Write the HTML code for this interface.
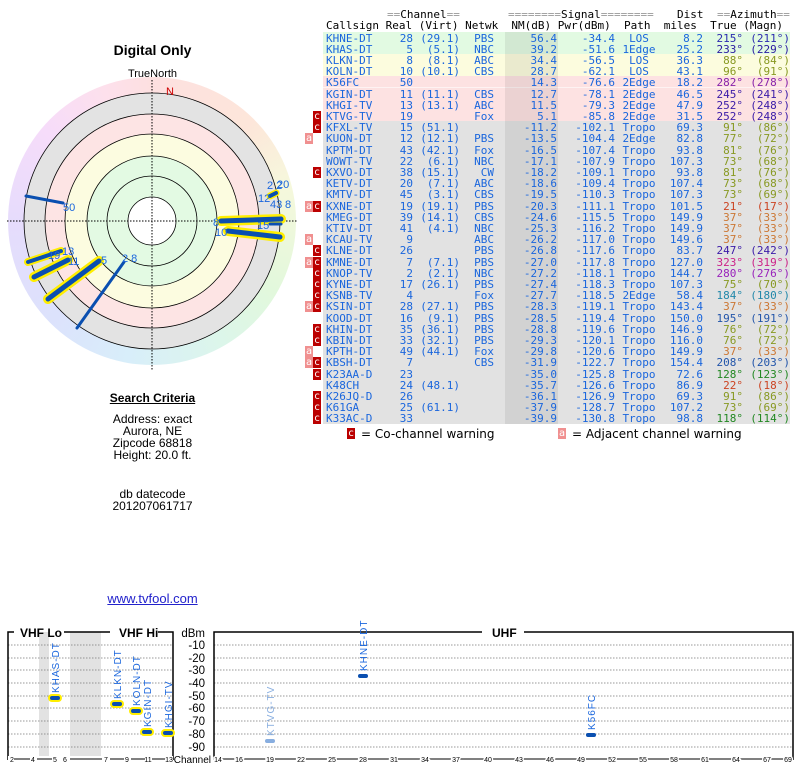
<!DOCTYPE html>
<html><head><meta charset="utf-8"><style>
body{margin:0;width:800px;height:768px;position:relative;background:#fff;overflow:hidden;font-family:"Liberation Sans",sans-serif}
.a{position:absolute}
.t{position:absolute;font-family:"DejaVu Sans Mono","Liberation Mono",monospace;font-size:11px;letter-spacing:0;line-height:11px;white-space:pre;color:#1a66dd}
.bg{position:absolute;left:323px;width:467px;height:11px;border-bottom:1px solid rgba(255,255,255,.6)}
.g{background:#e2fae2}.y{background:#fcfcde}.p{background:#fde2e2}.k{background:#e2e2e2}
.r{position:absolute;left:0;width:800px;height:11px}
.r span{position:absolute;top:0}
.cs{left:326px}.re{right:387px}.vi{right:340px}.nw{right:306px}.nm{right:243px}.pw{right:185px}.pa{left:621px;width:36px;text-align:center}.di{right:97px}.tr{right:57px}.mg{right:10px}
.C,.A{position:absolute;top:0;width:8px;height:11px;color:#fff;font-family:"DejaVu Sans Mono",monospace;font-size:10px;line-height:11px;text-align:center;font-weight:normal}
.C{left:313px;background:#bb0000}.A{left:305px;background:#f09090}
.cen{position:absolute;left:0;width:305px;text-align:center;font-size:12px;color:#000}
</style></head><body>

<div class="a" style="left:8px;top:77px;width:288px;height:288px;border-radius:50%;background:conic-gradient(#fde0e0 0deg,#fde6da 45deg,#f6f8dc 75deg,#e2f8dc 120deg,#dcf6ea 150deg,#d8eefa 190deg,#dce2fc 225deg,#e6dcfc 270deg,#f6dcfa 310deg,#fde0ec 340deg,#fde0e0 360deg)"></div>
<svg class="a" style="left:0;top:0" width="310" height="380">
<circle cx="152" cy="221" r="128" fill="#e3e3e3" stroke="#000" stroke-width="0.8"/>
<circle cx="152" cy="221" r="107" fill="#fde4e4" stroke="#000" stroke-width="0.8"/>
<circle cx="152" cy="221" r="87" fill="#fcfce0" stroke="#000" stroke-width="0.8"/>
<circle cx="152" cy="221" r="65" fill="#e3fae3" stroke="#000" stroke-width="0.8"/>
<circle cx="152" cy="221" r="45" fill="none" stroke="#000" stroke-width="0.8"/>
<circle cx="152" cy="221" r="24" fill="#fff" stroke="#000" stroke-width="0.8"/>
<line x1="7" y1="221" x2="297" y2="221" stroke="#000" stroke-width="1" stroke-dasharray="1.5,1.5"/>
<line x1="152" y1="80" x2="152" y2="370" stroke="#000" stroke-width="1" stroke-dasharray="1.5,1.5"/>
<g stroke-linecap="round">
<line x1="26" y1="196" x2="63" y2="203" stroke="#0a4fb0" stroke-width="3"/>
<line x1="124" y1="262" x2="77" y2="328" stroke="#0a4fb0" stroke-width="3"/>
<line x1="99" y1="261" x2="48" y2="299" stroke="#ffee00" stroke-width="10"/>
<line x1="99" y1="261" x2="48" y2="299" stroke="#0a4fb0" stroke-width="5"/>
<line x1="68" y1="260" x2="34" y2="277" stroke="#ffee00" stroke-width="10"/>
<line x1="68" y1="260" x2="34" y2="277" stroke="#0a4fb0" stroke-width="5"/>
<line x1="61" y1="251" x2="28" y2="262" stroke="#ffee00" stroke-width="8"/>
<line x1="61" y1="251" x2="28" y2="262" stroke="#0a4fb0" stroke-width="4"/>
<line x1="221" y1="221" x2="281" y2="219" stroke="#ffee00" stroke-width="10"/>
<line x1="221" y1="221" x2="281" y2="219" stroke="#0a4fb0" stroke-width="5"/>
<line x1="228" y1="231" x2="280" y2="237" stroke="#ffee00" stroke-width="10"/>
<line x1="228" y1="231" x2="280" y2="237" stroke="#0a4fb0" stroke-width="5"/>
<line x1="270" y1="224" x2="281" y2="224" stroke="#0a4fb0" stroke-width="3"/>
<line x1="270" y1="196" x2="276" y2="193" stroke="#ffee00" stroke-width="7"/>
<line x1="270" y1="196" x2="276" y2="193" stroke="#0a4fb0" stroke-width="4"/>
</g>
<g font-family="Liberation Sans,sans-serif" font-size="11" fill="#1a66dd">
<text x="63" y="211">50</text><text x="122" y="262">2 8</text><text x="101" y="264">5</text>
<text x="68" y="265">11</text><text x="62" y="255">13</text><text x="48" y="259">19</text>
<text x="213" y="226">8</text><text x="215" y="236">10</text><text x="257" y="229">15</text>
<text x="267" y="189">2 2</text><text x="277" y="188">20</text><text x="258" y="202">12</text><text x="270" y="208">43</text><text x="285" y="208">8</text>
</g>
<text x="166" y="95" font-family="Liberation Sans,sans-serif" font-size="11" fill="#cc0000">N</text>
</svg>
<div class="cen" style="top:42px;font-size:14px;font-weight:bold">Digital Only</div>
<div class="cen" style="top:68px;font-size:11px">TrueNorth</div>

<div class="cen" style="top:391px;font-weight:bold"><span style="text-decoration:underline">Search Criteria</span></div>
<div class="cen" style="top:413px;line-height:12px">Address: exact<br>Aurora, NE<br>Zipcode 68818<br>Height: 20.0 ft.</div>
<div class="cen" style="top:488px;line-height:12px">db datecode<br>201207061717</div>
<div class="cen" style="top:591px;font-size:13px;color:#2222cc;text-decoration:underline">www.tvfool.com</div>

<div class="t" style="left:387px;top:9px;color:#000"><span style="color:#999">==</span>Channel<span style="color:#999">==</span></div>
<div class="t" style="left:508px;top:9px;color:#000"><span style="color:#999">========</span>Signal<span style="color:#999">========</span></div>
<div class="t" style="left:677px;top:9px;color:#000">Dist</div>
<div class="t" style="left:717px;top:9px;color:#000"><span style="color:#999">==</span>Azimuth<span style="color:#999">==</span></div>
<div class="t" style="left:326px;top:20px;color:#000">Callsign Real (Virt) Netwk  NM(dB) Pwr(dBm)  Path  miles  True (Magn)</div>

<div class="bg g" style="top:32px"></div><div class="bg g" style="top:43px"></div>
<div class="bg y" style="top:54px"></div><div class="bg y" style="top:65px"></div>
<div class="bg p" style="top:76px"></div><div class="bg p" style="top:88px"></div><div class="bg p" style="top:99px"></div><div class="bg p" style="top:110px"></div>
<div class="a k" style="left:323px;top:121px;width:467px;height:303px"></div>
<div class="a" style="left:505px;top:32px;width:53px;height:392px;background:rgba(0,0,0,.07)"></div>

<div class="t" style="left:0;top:32.5px;width:800px">
<div class="r" style="top:0px"><span class="cs">KHNE-DT</span><span class="re">28</span><span class="vi">(29.1)</span><span class="nw">PBS</span><span class="nm">56.4</span><span class="pw">-34.4</span><span class="pa">LOS</span><span class="di">8.2</span><span class="tr" style="color:#2a2ab0">215°</span><span class="mg" style="color:#2a2ab0">(211°)</span></div>
<div class="r" style="top:11.2px"><span class="cs">KHAS-DT</span><span class="re">5</span><span class="vi">(5.1)</span><span class="nw">NBC</span><span class="nm">39.2</span><span class="pw">-51.6</span><span class="pa">1Edge</span><span class="di">25.2</span><span class="tr" style="color:#2a1aa0">233°</span><span class="mg" style="color:#2a1aa0">(229°)</span></div>
<div class="r" style="top:22.4px"><span class="cs">KLKN-DT</span><span class="re">8</span><span class="vi">(8.1)</span><span class="nw">ABC</span><span class="nm">34.4</span><span class="pw">-56.5</span><span class="pa">LOS</span><span class="di">36.3</span><span class="tr" style="color:#889922">88°</span><span class="mg" style="color:#889922">(84°)</span></div>
<div class="r" style="top:33.6px"><span class="cs">KOLN-DT</span><span class="re">10</span><span class="vi">(10.1)</span><span class="nw">CBS</span><span class="nm">28.7</span><span class="pw">-62.1</span><span class="pa">LOS</span><span class="di">43.1</span><span class="tr" style="color:#889922">96°</span><span class="mg" style="color:#889922">(91°)</span></div>
<div class="r" style="top:44.8px"><span class="cs">K56FC</span><span class="re">50</span><span class="nm">14.3</span><span class="pw">-76.6</span><span class="pa">2Edge</span><span class="di">18.2</span><span class="tr" style="color:#8822aa">282°</span><span class="mg" style="color:#8822aa">(278°)</span></div>
<div class="r" style="top:56px"><span class="cs">KGIN-DT</span><span class="re">11</span><span class="vi">(11.1)</span><span class="nw">CBS</span><span class="nm">12.7</span><span class="pw">-78.1</span><span class="pa">2Edge</span><span class="di">46.5</span><span class="tr" style="color:#3a1aa8">245°</span><span class="mg" style="color:#3a1aa8">(241°)</span></div>
<div class="r" style="top:67.2px"><span class="cs">KHGI-TV</span><span class="re">13</span><span class="vi">(13.1)</span><span class="nw">ABC</span><span class="nm">11.5</span><span class="pw">-79.3</span><span class="pa">2Edge</span><span class="di">47.9</span><span class="tr" style="color:#3a1aa8">252°</span><span class="mg" style="color:#3a1aa8">(248°)</span></div>
<div class="r" style="top:78.4px"><b class="C">c</b><span class="cs">KTVG-TV</span><span class="re">19</span><span class="nw">Fox</span><span class="nm">5.1</span><span class="pw">-85.8</span><span class="pa">2Edge</span><span class="di">31.5</span><span class="tr" style="color:#3a1aa8">252°</span><span class="mg" style="color:#3a1aa8">(248°)</span></div>
<div class="r" style="top:89.6px"><b class="C">c</b><span class="cs">KFXL-TV</span><span class="re">15</span><span class="vi">(51.1)</span><span class="nm">-11.2</span><span class="pw">-102.1</span><span class="pa">Tropo</span><span class="di">69.3</span><span class="tr" style="color:#889922">91°</span><span class="mg" style="color:#889922">(86°)</span></div>
<div class="r" style="top:100.8px"><b class="A">a</b><span class="cs">KUON-DT</span><span class="re">12</span><span class="vi">(12.1)</span><span class="nw">PBS</span><span class="nm">-13.5</span><span class="pw">-104.4</span><span class="pa">2Edge</span><span class="di">82.8</span><span class="tr" style="color:#889922">77°</span><span class="mg" style="color:#889922">(72°)</span></div>
<div class="r" style="top:112px"><span class="cs">KPTM-DT</span><span class="re">43</span><span class="vi">(42.1)</span><span class="nw">Fox</span><span class="nm">-16.5</span><span class="pw">-107.4</span><span class="pa">Tropo</span><span class="di">93.8</span><span class="tr" style="color:#889922">81°</span><span class="mg" style="color:#889922">(76°)</span></div>
<div class="r" style="top:123.2px"><span class="cs">WOWT-TV</span><span class="re">22</span><span class="vi">(6.1)</span><span class="nw">NBC</span><span class="nm">-17.1</span><span class="pw">-107.9</span><span class="pa">Tropo</span><span class="di">107.3</span><span class="tr" style="color:#889922">73°</span><span class="mg" style="color:#889922">(68°)</span></div>
<div class="r" style="top:134.4px"><b class="C">c</b><span class="cs">KXVO-DT</span><span class="re">38</span><span class="vi">(15.1)</span><span class="nw">CW</span><span class="nm">-18.2</span><span class="pw">-109.1</span><span class="pa">Tropo</span><span class="di">93.8</span><span class="tr" style="color:#889922">81°</span><span class="mg" style="color:#889922">(76°)</span></div>
<div class="r" style="top:145.6px"><span class="cs">KETV-DT</span><span class="re">20</span><span class="vi">(7.1)</span><span class="nw">ABC</span><span class="nm">-18.6</span><span class="pw">-109.4</span><span class="pa">Tropo</span><span class="di">107.4</span><span class="tr" style="color:#889922">73°</span><span class="mg" style="color:#889922">(68°)</span></div>
<div class="r" style="top:156.8px"><span class="cs">KMTV-DT</span><span class="re">45</span><span class="vi">(3.1)</span><span class="nw">CBS</span><span class="nm">-19.5</span><span class="pw">-110.3</span><span class="pa">Tropo</span><span class="di">107.3</span><span class="tr" style="color:#889922">73°</span><span class="mg" style="color:#889922">(69°)</span></div>
<div class="r" style="top:168px"><b class="A">a</b><b class="C">c</b><span class="cs">KXNE-DT</span><span class="re">19</span><span class="vi">(19.1)</span><span class="nw">PBS</span><span class="nm">-20.3</span><span class="pw">-111.1</span><span class="pa">Tropo</span><span class="di">101.5</span><span class="tr" style="color:#cc4422">21°</span><span class="mg" style="color:#cc4422">(17°)</span></div>
<div class="r" style="top:179.2px"><span class="cs">KMEG-DT</span><span class="re">39</span><span class="vi">(14.1)</span><span class="nw">CBS</span><span class="nm">-24.6</span><span class="pw">-115.5</span><span class="pa">Tropo</span><span class="di">149.9</span><span class="tr" style="color:#cc7733">37°</span><span class="mg" style="color:#cc7733">(33°)</span></div>
<div class="r" style="top:190.4px"><span class="cs">KTIV-DT</span><span class="re">41</span><span class="vi">(4.1)</span><span class="nw">NBC</span><span class="nm">-25.3</span><span class="pw">-116.2</span><span class="pa">Tropo</span><span class="di">149.9</span><span class="tr" style="color:#cc7733">37°</span><span class="mg" style="color:#cc7733">(33°)</span></div>
<div class="r" style="top:201.6px"><b class="A">a</b><span class="cs">KCAU-TV</span><span class="re">9</span><span class="nw">ABC</span><span class="nm">-26.2</span><span class="pw">-117.0</span><span class="pa">Tropo</span><span class="di">149.6</span><span class="tr" style="color:#cc7733">37°</span><span class="mg" style="color:#cc7733">(33°)</span></div>
<div class="r" style="top:212.8px"><b class="C">c</b><span class="cs">KLNE-DT</span><span class="re">26</span><span class="nw">PBS</span><span class="nm">-26.8</span><span class="pw">-117.6</span><span class="pa">Tropo</span><span class="di">83.7</span><span class="tr" style="color:#3a1aa8">247°</span><span class="mg" style="color:#3a1aa8">(242°)</span></div>
<div class="r" style="top:224px"><b class="A">a</b><b class="C">c</b><span class="cs">KMNE-DT</span><span class="re">7</span><span class="vi">(7.1)</span><span class="nw">PBS</span><span class="nm">-27.0</span><span class="pw">-117.8</span><span class="pa">Tropo</span><span class="di">127.0</span><span class="tr" style="color:#cc2288">323°</span><span class="mg" style="color:#cc2288">(319°)</span></div>
<div class="r" style="top:235.2px"><b class="C">c</b><span class="cs">KNOP-TV</span><span class="re">2</span><span class="vi">(2.1)</span><span class="nw">NBC</span><span class="nm">-27.2</span><span class="pw">-118.1</span><span class="pa">Tropo</span><span class="di">144.7</span><span class="tr" style="color:#9922bb">280°</span><span class="mg" style="color:#9922bb">(276°)</span></div>
<div class="r" style="top:246.4px"><b class="C">c</b><span class="cs">KYNE-DT</span><span class="re">17</span><span class="vi">(26.1)</span><span class="nw">PBS</span><span class="nm">-27.4</span><span class="pw">-118.3</span><span class="pa">Tropo</span><span class="di">107.3</span><span class="tr" style="color:#889922">75°</span><span class="mg" style="color:#889922">(70°)</span></div>
<div class="r" style="top:257.6px"><b class="C">c</b><span class="cs">KSNB-TV</span><span class="re">4</span><span class="nw">Fox</span><span class="nm">-27.7</span><span class="pw">-118.5</span><span class="pa">2Edge</span><span class="di">58.4</span><span class="tr" style="color:#2288aa">184°</span><span class="mg" style="color:#2288aa">(180°)</span></div>
<div class="r" style="top:268.8px"><b class="A">a</b><b class="C">c</b><span class="cs">KSIN-DT</span><span class="re">28</span><span class="vi">(27.1)</span><span class="nw">PBS</span><span class="nm">-28.3</span><span class="pw">-119.1</span><span class="pa">Tropo</span><span class="di">143.4</span><span class="tr" style="color:#cc7733">37°</span><span class="mg" style="color:#cc7733">(33°)</span></div>
<div class="r" style="top:280px"><span class="cs">KOOD-DT</span><span class="re">16</span><span class="vi">(9.1)</span><span class="nw">PBS</span><span class="nm">-28.5</span><span class="pw">-119.4</span><span class="pa">Tropo</span><span class="di">150.0</span><span class="tr" style="color:#2255aa">195°</span><span class="mg" style="color:#2255aa">(191°)</span></div>
<div class="r" style="top:291.2px"><b class="C">c</b><span class="cs">KHIN-DT</span><span class="re">35</span><span class="vi">(36.1)</span><span class="nw">PBS</span><span class="nm">-28.8</span><span class="pw">-119.6</span><span class="pa">Tropo</span><span class="di">146.9</span><span class="tr" style="color:#889922">76°</span><span class="mg" style="color:#889922">(72°)</span></div>
<div class="r" style="top:302.4px"><b class="C">c</b><span class="cs">KBIN-DT</span><span class="re">33</span><span class="vi">(32.1)</span><span class="nw">PBS</span><span class="nm">-29.3</span><span class="pw">-120.1</span><span class="pa">Tropo</span><span class="di">116.0</span><span class="tr" style="color:#889922">76°</span><span class="mg" style="color:#889922">(72°)</span></div>
<div class="r" style="top:313.6px"><b class="A">a</b><span class="cs">KPTH-DT</span><span class="re">49</span><span class="vi">(44.1)</span><span class="nw">Fox</span><span class="nm">-29.8</span><span class="pw">-120.6</span><span class="pa">Tropo</span><span class="di">149.9</span><span class="tr" style="color:#cc7733">37°</span><span class="mg" style="color:#cc7733">(33°)</span></div>
<div class="r" style="top:324.8px"><b class="A">a</b><b class="C">c</b><span class="cs">KBSH-DT</span><span class="re">7</span><span class="nw">CBS</span><span class="nm">-31.9</span><span class="pw">-122.7</span><span class="pa">Tropo</span><span class="di">154.4</span><span class="tr" style="color:#2255aa">208°</span><span class="mg" style="color:#2255aa">(203°)</span></div>
<div class="r" style="top:336px"><b class="C">c</b><span class="cs">K23AA-D</span><span class="re">23</span><span class="nm">-35.0</span><span class="pw">-125.8</span><span class="pa">Tropo</span><span class="di">72.6</span><span class="tr" style="color:#228822">128°</span><span class="mg" style="color:#228822">(123°)</span></div>
<div class="r" style="top:347.2px"><span class="cs">K48CH</span><span class="re">24</span><span class="vi">(48.1)</span><span class="nm">-35.7</span><span class="pw">-126.6</span><span class="pa">Tropo</span><span class="di">86.9</span><span class="tr" style="color:#cc4422">22°</span><span class="mg" style="color:#cc4422">(18°)</span></div>
<div class="r" style="top:358.4px"><b class="C">c</b><span class="cs">K26JQ-D</span><span class="re">26</span><span class="nm">-36.1</span><span class="pw">-126.9</span><span class="pa">Tropo</span><span class="di">69.3</span><span class="tr" style="color:#889922">91°</span><span class="mg" style="color:#889922">(86°)</span></div>
<div class="r" style="top:369.6px"><b class="C">c</b><span class="cs">K61GA</span><span class="re">25</span><span class="vi">(61.1)</span><span class="nm">-37.9</span><span class="pw">-128.7</span><span class="pa">Tropo</span><span class="di">107.2</span><span class="tr" style="color:#889922">73°</span><span class="mg" style="color:#889922">(69°)</span></div>
<div class="r" style="top:380.8px"><b class="C">c</b><span class="cs">K33AC-D</span><span class="re">33</span><span class="nm">-39.9</span><span class="pw">-130.8</span><span class="pa">Tropo</span><span class="di">98.8</span><span class="tr" style="color:#228822">118°</span><span class="mg" style="color:#228822">(114°)</span></div>
</div>

<b class="C" style="left:347px;top:428px">c</b>
<div class="a" style="left:361px;top:427px;font-size:12px;font-family:'DejaVu Sans',sans-serif;color:#000">= Co-channel warning</div>
<b class="A" style="left:558px;top:428px">a</b>
<div class="a" style="left:572px;top:427px;font-size:12px;font-family:'DejaVu Sans',sans-serif;color:#000">= Adjacent channel warning</div>

<svg class="a" style="left:0;top:620px" width="800" height="148" font-family="Liberation Sans,sans-serif">
<rect x="39" y="12" width="10" height="127" fill="#e2e2e2"/>
<rect x="70" y="12" width="31" height="127" fill="#e2e2e2"/>
<g stroke="#777" stroke-width="0.8" stroke-dasharray="1.5,1.5">
<path d="M8 25H173M8 38H173M8 50H173M8 63H173M8 76H173M8 88H173M8 101H173M8 114H173M8 127H173"/>
<path d="M214 25H793M214 38H793M214 50H793M214 63H793M214 76H793M214 88H793M214 101H793M214 114H793M214 127H793"/>
</g>
<g stroke="#000" stroke-width="1.5" fill="none">
<path d="M8 140V12H14M64 12H110M158 12H173V140"/>
<path d="M214 140V12H482M524 12H793V140"/>
<path d="M8 139H173M214 139H793" stroke-width="1"/>
</g>
<g font-weight="bold" font-size="12" fill="#000">
<text x="20" y="17">VHF Lo</text><text x="119" y="17">VHF Hi</text><text x="492" y="17">UHF</text>
</g>
<g font-size="11.5" fill="#000" text-anchor="end">
<text x="205" y="17">dBm</text><text x="205" y="29">-10</text><text x="205" y="42">-20</text><text x="205" y="54">-30</text><text x="205" y="67">-40</text><text x="205" y="80">-50</text><text x="205" y="92">-60</text><text x="205" y="105">-70</text><text x="205" y="118">-80</text><text x="205" y="131">-90</text>
</g>
<text x="211" y="143" font-size="10" fill="#000" text-anchor="end">Channel</text>
<g font-size="7" fill="#000" text-anchor="middle">
<rect x="8" y="136" width="165" height="7" fill="#fff"/>
<path d="M14 139H30M37 139H52M70 139H102M110 139H124M131 139H145M152 139H165M222 139H266M275 139H790" stroke="#000"/>
<text x="12" y="142">2</text><text x="33" y="142">4</text><text x="55" y="142">5</text><text x="65" y="142">6</text><text x="106" y="142">7</text><text x="127" y="142">9</text><text x="148" y="142">11</text><text x="169" y="142">13</text>
<g fill="#000" stroke="#fff" stroke-width="3" paint-order="stroke">
<text x="218" y="142">14</text><text x="239" y="142">16</text><text x="270" y="142">19</text><text x="301" y="142">22</text><text x="332" y="142">25</text><text x="363" y="142">28</text><text x="394" y="142">31</text><text x="425" y="142">34</text><text x="456" y="142">37</text><text x="488" y="142">40</text><text x="519" y="142">43</text><text x="550" y="142">46</text><text x="581" y="142">49</text><text x="612" y="142">52</text><text x="643" y="142">55</text><text x="674" y="142">58</text><text x="705" y="142">61</text><text x="736" y="142">64</text><text x="767" y="142">67</text><text x="788" y="142">69</text>
</g>
</g>
<g stroke-linecap="round">
<g stroke="#ffee00" stroke-width="8">
<line x1="52" y1="78" x2="58" y2="78"/><line x1="114" y1="84" x2="120" y2="84"/><line x1="133" y1="91" x2="139" y2="91"/><line x1="144" y1="112" x2="150" y2="112"/><line x1="165" y1="113" x2="171" y2="113"/>
</g>
<g stroke="#0a4fb0" stroke-width="4">
<line x1="52" y1="78" x2="58" y2="78"/><line x1="114" y1="84" x2="120" y2="84"/><line x1="133" y1="91" x2="139" y2="91"/><line x1="144" y1="112" x2="150" y2="112"/><line x1="165" y1="113" x2="171" y2="113"/>
<line x1="360" y1="56" x2="366" y2="56"/><line x1="588" y1="115" x2="594" y2="115"/>
</g>
<line x1="267" y1="121" x2="273" y2="121" stroke="#88aee0" stroke-width="4"/>
</g>
<g font-size="10" fill="#1a66dd" letter-spacing="1">
<text transform="translate(59,73) rotate(-90)">KHAS-DT</text>
<text transform="translate(121,79) rotate(-90)">KLKN-DT</text>
<text transform="translate(140,86) rotate(-90)">KOLN-DT</text>
<text transform="translate(151,107) rotate(-90)">KGIN-DT</text>
<text transform="translate(172,108) rotate(-90)">KHGI-TV</text>
<text transform="translate(367,51) rotate(-90)">KHNE-DT</text>
<text transform="translate(595,110) rotate(-90)">K56FC</text>
<text transform="translate(274,116) rotate(-90)" fill="#88aee0">KTVG-TV</text>
</g>
</svg>
</body></html>
